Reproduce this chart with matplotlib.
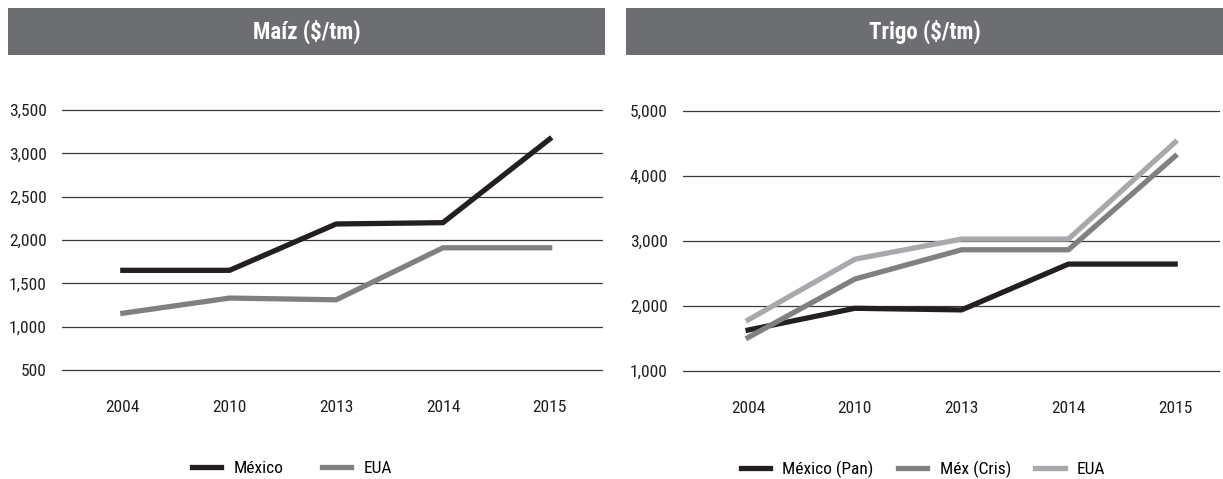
import matplotlib
matplotlib.use('Agg')
import matplotlib.pyplot as plt
from matplotlib import font_manager
from matplotlib.patches import Rectangle

# pick a narrow face if one is installed
names = set(f.name for f in font_manager.fontManager.ttflist)
family = 'DejaVu Sans'
for cand in ['Liberation Sans Narrow', 'Roboto Condensed', 'Open Sans Condensed', 'DejaVu Sans Condensed', 'Liberation Sans']:
    if cand in names:
        family = cand
        break
plt.rcParams['font.family'] = family

years = ['2004', '2010', '2013', '2014', '2015']

maiz_mexico = [1650, 1650, 2185, 2200, 3165]
maiz_eua = [1155, 1330, 1310, 1910, 1910]
maiz_ticks = [500, 1000, 1500, 2000, 2500, 3000, 3500]

trigo_pan = [1630, 1965, 1940, 2645, 2645]
trigo_cris = [1515, 2415, 2865, 2865, 4305]
trigo_eua = [1785, 2720, 3030, 3030, 4520]
trigo_ticks = [1000, 2000, 3000, 4000, 5000]

BLACK = '#231f20'
MID = '#808083'
LIGHT = '#a7a9ac'
BAR = '#6d6e71'

W, H = 1223, 479
fig = plt.figure(figsize=(W / 100, H / 100), dpi=100)

def px(x0, y0, x1, y1):
    # pixel box (top-left origin) -> figure fraction rect
    return [x0 / W, 1 - y1 / H, (x1 - x0) / W, (y1 - y0) / H]

def header(x0, x1, text):
    r = px(x0, 8, x1, 55)
    fig.patches.append(Rectangle((r[0], r[1]), r[2], r[3], transform=fig.transFigure,
                                 facecolor=BAR, edgecolor='none'))
    fig.text(r[0] + r[2] / 2, r[1] + r[3] / 2, text, color='white', fontsize=16.5,
             fontweight='bold', ha='center', va='center')

def style(ax, ticks, lo, hi, xl):
    pad = (hi - lo) * 0.01
    ax.set_ylim(lo - pad, hi + pad)
    ax.set_yticks(ticks)
    ax.set_yticklabels([f'{t:,}' for t in ticks])
    ax.set_xlim(*xl)
    ax.set_xticks(range(len(years)))
    ax.set_xticklabels(years)
    for s in ax.spines.values():
        s.set_visible(False)
    ax.tick_params(length=0, labelsize=12.5, colors='#231f20')
    ax.tick_params(axis='y', pad=11)
    ax.tick_params(axis='x', pad=20)
    ax.grid(axis='y', color='#3a3a3a', linewidth=0.9)
    ax.set_axisbelow(True)

header(8, 605, 'Maíz ($/tm)')
header(626, 1223, 'Trigo ($/tm)')

# axes boxes widened by the 1% y padding (2.6 px)
ax1 = fig.add_axes(px(62, 107.4, 603, 372.6))
x = range(len(years))
ax1.plot(x, maiz_mexico, color=BLACK, lw=3.8, label='México', clip_on=False)
ax1.plot(x, maiz_eua, color=MID, lw=3.8, label='EUA', clip_on=False)
style(ax1, maiz_ticks, 500, 3500, (-0.57, 4.5))
ax1.legend(loc='center', bbox_to_anchor=(0.425, -0.36), ncol=2, frameon=False,
           fontsize=12.5, handlelength=1.7, handletextpad=0.7, columnspacing=2.2)

ax2 = fig.add_axes(px(683, 108.4, 1220, 373.6))
ax2.plot(x, trigo_pan, color=BLACK, lw=3.8, label='México (Pan)', clip_on=False)
ax2.plot(x, trigo_cris, color=MID, lw=3.8, label='Méx (Cris)', clip_on=False)
ax2.plot(x, trigo_eua, color=LIGHT, lw=3.8, label='EUA', clip_on=False)
style(ax2, trigo_ticks, 1000, 5000, (-0.61, 4.42))
ax2.legend(loc='center', bbox_to_anchor=(0.447, -0.36), ncol=3, frameon=False,
           fontsize=12.5, handlelength=1.7, handletextpad=0.7, columnspacing=1.4)

fig.savefig('out.png', dpi=100, facecolor='white')
